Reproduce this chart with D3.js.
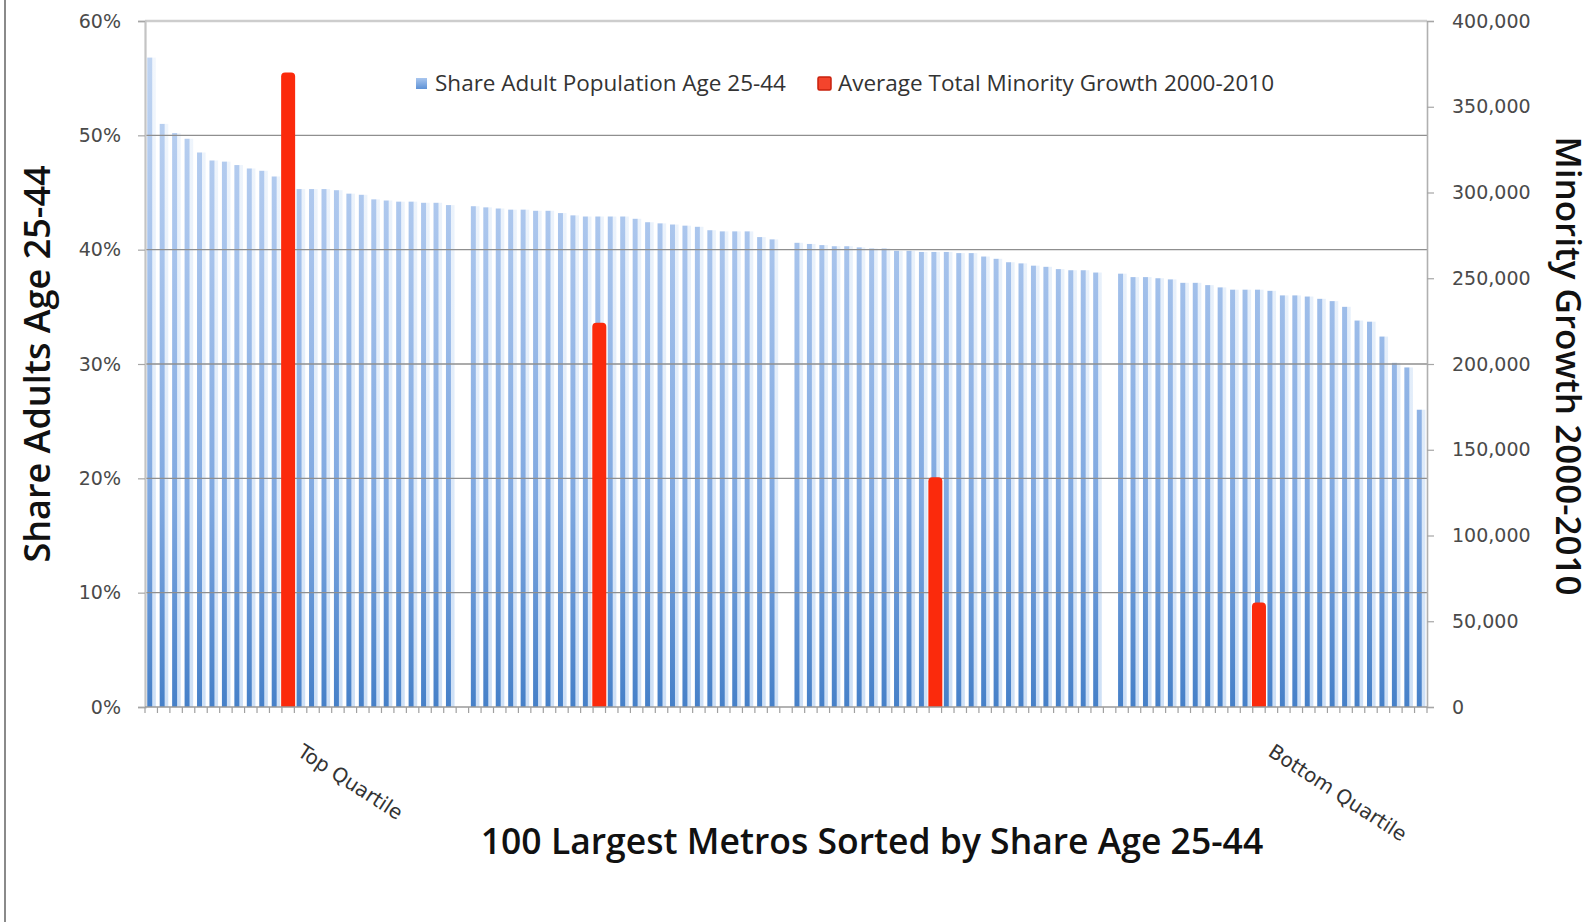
<!DOCTYPE html>
<html>
<head>
<meta charset="utf-8">
<script src="https://cdn.jsdelivr.net/npm/d3@7/dist/d3.min.js"></script>
<style>
  html, body { margin: 0; padding: 0; background: #fff; }
  svg { display: block; }
</style>
</head>
<body>
<svg id="chart" width="1594" height="922"></svg>
<script>
// ---------------- DATA ----------------
// Share of adult population age 25-44 for the 100 largest metros, sorted (four quartiles of 25)
const shareTopQuartile = [56.8, 51.0, 50.2, 49.7, 48.5, 47.8, 47.7, 47.4, 47.1, 46.9, 46.4, 46.2, 45.3, 45.3, 45.3, 45.2, 44.9, 44.8, 44.4, 44.3, 44.2, 44.2, 44.1, 44.1, 43.9];
const shareSecondQuartile = [43.8, 43.7, 43.6, 43.5, 43.5, 43.4, 43.4, 43.2, 43.0, 42.9, 42.9, 42.9, 42.9, 42.7, 42.4, 42.3, 42.2, 42.1, 42.0, 41.7, 41.6, 41.6, 41.6, 41.1, 40.9];
const shareThirdQuartile = [40.6, 40.5, 40.4, 40.3, 40.3, 40.2, 40.1, 40.1, 39.9, 39.9, 39.8, 39.8, 39.8, 39.7, 39.7, 39.4, 39.2, 38.9, 38.8, 38.6, 38.5, 38.3, 38.2, 38.2, 38.0];
const shareBottomQuartile = [37.9, 37.6, 37.6, 37.5, 37.4, 37.1, 37.1, 36.9, 36.7, 36.5, 36.5, 36.5, 36.4, 36.0, 36.0, 35.9, 35.7, 35.5, 35.0, 33.8, 33.7, 32.4, 30.1, 29.7, 26.0];
const quartileShares = [shareTopQuartile, shareSecondQuartile, shareThirdQuartile, shareBottomQuartile];

// Average total minority growth 2000-2010 per quartile, plotted at one metro rank inside each quartile
const minorityGrowth = [370000, 224000, 134000, 61000];
const markerRankInQuartile = [12, 11, 12, 12];            // 1-based rank within the quartile
const quartileLabels = ["Top Quartile", "", "", "Bottom Quartile"];

const leftTicks = [0, 0.1, 0.2, 0.3, 0.4, 0.5, 0.6];
const rightTicks = [0, 50000, 100000, 150000, 200000, 250000, 300000, 350000, 400000];

const seriesNames = ["Share Adult Population Age 25-44", "Average Total Minority Growth 2000-2010"];
const leftTitle = "Share Adults Age 25-44";
const rightTitle = "Minority Growth 2000-2010";
const xTitle = "100 Largest Metros Sorted by Share Age 25-44";

// ---------------- LAYOUT ----------------
const svg = d3.select("#chart");
const W = 1594, H = 922;
const plot = { left: 145, right: 1427, top: 21, bottom: 707 };

// categories: each quartile of 25 metros followed by one empty spacer slot
const slots = [];
quartileShares.forEach((arr, q) => {
  arr.forEach((v, i) => slots.push({ key: "q" + q + "_" + i, q, i, v }));
  if (q < quartileShares.length - 1) slots.push({ key: "gap" + q, q, i: -1, v: null });
});

const x = d3.scaleBand().domain(slots.map(d => d.key)).range([plot.left, plot.right]).paddingInner(0).paddingOuter(0);
const yL = d3.scaleLinear().domain([0, 0.6]).range([plot.bottom, plot.top]);
const yR = d3.scaleLinear().domain([0, 400000]).range([plot.bottom, plot.top]);
const step = x.step();

// defs
const defs = svg.append("defs");
const gDark = defs.append("linearGradient").attr("id", "gDark")
  .attr("gradientUnits", "userSpaceOnUse").attr("x1", 0).attr("x2", 0)
  .attr("y1", plot.top).attr("y2", plot.bottom);
gDark.append("stop").attr("offset", 0).attr("stop-color", "#c4d7f2");
gDark.append("stop").attr("offset", 0.3).attr("stop-color", "#abc6ed");
gDark.append("stop").attr("offset", 0.7).attr("stop-color", "#7fa8e0");
gDark.append("stop").attr("offset", 1).attr("stop-color", "#4680c8");
const gLight = defs.append("linearGradient").attr("id", "gLight")
  .attr("gradientUnits", "userSpaceOnUse").attr("x1", 0).attr("x2", 0)
  .attr("y1", plot.top).attr("y2", plot.bottom);
gLight.append("stop").attr("offset", 0).attr("stop-color", "#f4f8fd");
gLight.append("stop").attr("offset", 0.5).attr("stop-color", "#e4eefa");
gLight.append("stop").attr("offset", 1).attr("stop-color", "#cee0f6");
const gLeg = defs.append("linearGradient").attr("id", "gLeg").attr("x1", 0).attr("x2", 0).attr("y1", 0).attr("y2", 1);
gLeg.append("stop").attr("offset", 0).attr("stop-color", "#a9c6ee");
gLeg.append("stop").attr("offset", 1).attr("stop-color", "#5e92d6");

// left frame line of the screenshot
svg.append("line").attr("x1", 5).attr("x2", 5).attr("y1", 0).attr("y2", H)
  .attr("stroke", "#8a8a8a").attr("stroke-width", 2);

// blue bars
const blue = svg.append("g");
const barData = slots.filter(d => d.v !== null);
blue.selectAll("rect.light").data(barData).join("rect").attr("class", "light")
  .attr("x", d => x(d.key) + step * 0.55)
  .attr("width", step * 0.32)
  .attr("y", d => yL(d.v / 100))
  .attr("height", d => plot.bottom - yL(d.v / 100))
  .attr("fill", "url(#gLight)");
blue.selectAll("rect.dark").data(barData).join("rect").attr("class", "dark")
  .attr("x", d => x(d.key) + step * 0.18)
  .attr("width", step * 0.4)
  .attr("y", d => yL(d.v / 100))
  .attr("height", d => plot.bottom - yL(d.v / 100))
  .attr("fill", "url(#gDark)");

// gridlines
svg.append("g").selectAll("line").data(leftTicks.filter(t => t > 0)).join("line")
  .attr("x1", plot.left).attr("x2", plot.right)
  .attr("y1", d => yL(d)).attr("y2", d => yL(d))
  .attr("stroke", d => d === 0.6 ? "#cdcdcd" : "#8f8f8f")
  .attr("stroke-width", d => d === 0.6 ? 2.5 : 1.4);

// red bars
const redData = minorityGrowth.map((v, q) => ({ v, key: "q" + q + "_" + (markerRankInQuartile[q] - 1), label: quartileLabels[q] }));
const rw = 14;
svg.append("g").selectAll("path").data(redData).join("path")
  .attr("d", d => {
    const cx = x(d.key) + step / 2, y0 = yR(d.v), r = 4;
    const xl = cx - rw / 2, xr = cx + rw / 2;
    return `M${xl},${plot.bottom} L${xl},${y0 + r} Q${xl},${y0} ${xl + r},${y0} L${xr - r},${y0} Q${xr},${y0} ${xr},${y0 + r} L${xr},${plot.bottom} Z`;
  })
  .attr("fill", "#fb2a0c");

// axes
const axisColor = "#a6a6a6";
const labelColor = "#4a4a4a";
const tickFont = "DejaVu Sans, Verdana, sans-serif";

const gL = svg.append("g").attr("transform", `translate(${plot.left},0)`)
  .call(d3.axisLeft(yL).tickValues(leftTicks).tickFormat(d3.format(".0%")).tickSize(7).tickPadding(17));
const gR = svg.append("g").attr("transform", `translate(${plot.right},0)`)
  .call(d3.axisRight(yR).tickValues(rightTicks).tickFormat(d3.format(",")).tickSize(7).tickPadding(18));
[gL, gR].forEach(g => {
  g.select(".domain").attr("stroke", "#c4c4c4").attr("stroke-width", 2.2);
  g.selectAll(".tick line").attr("stroke", axisColor).attr("stroke-width", 1.2);
  g.selectAll(".tick text").attr("fill", labelColor).attr("font-family", tickFont).attr("font-size", 19);
});
gR.select(".domain").attr("stroke", "#b0b0b0").attr("stroke-width", 1.6);

// bottom category axis with ticks between categories
const gB = svg.append("g");
gB.append("line").attr("x1", plot.left).attr("x2", plot.right)
  .attr("y1", plot.bottom).attr("y2", plot.bottom)
  .attr("stroke", "#9a9a9a").attr("stroke-width", 1.6);
const boundaries = slots.map(d => x(d.key)).concat([plot.right]);
gB.selectAll("line.t").data(boundaries).join("line").attr("class", "t")
  .attr("x1", d => d).attr("x2", d => d)
  .attr("y1", plot.bottom).attr("y2", plot.bottom + 6)
  .attr("stroke", "#a0a0a0").attr("stroke-width", 1.2);

// rotated quartile labels
gB.selectAll("text").data(redData.filter(d => d.label)).join("text")
  .attr("transform", d => `translate(${x(d.key) + step / 2 + 8},${plot.bottom + 48}) rotate(33)`)
  .attr("font-family", tickFont).attr("font-size", 20).attr("fill", "#333")
  .text(d => d.label);

// titles
const titleFont = "Open Sans, Noto Sans, sans-serif";
svg.append("text").attr("transform", `translate(50,364) rotate(-90)`)
  .attr("text-anchor", "middle").attr("font-family", titleFont).attr("font-weight", 600)
  .attr("font-size", 36).attr("fill", "#111").text(leftTitle);
svg.append("text").attr("transform", `translate(1556,366) rotate(90)`)
  .attr("text-anchor", "middle").attr("font-family", titleFont).attr("font-weight", 600)
  .attr("font-size", 35).attr("fill", "#111").text(rightTitle);
svg.append("text").attr("x", 872).attr("y", 854)
  .attr("text-anchor", "middle").attr("font-family", titleFont).attr("font-weight", 600)
  .attr("font-size", 35.5).attr("fill", "#111").text(xTitle);

// legend
const leg = svg.append("g").attr("font-family", titleFont).attr("font-size", 22.5).attr("fill", "#333");
leg.append("rect").attr("x", 416).attr("y", 78).attr("width", 11).attr("height", 11).attr("fill", "url(#gLeg)");
leg.append("text").attr("x", 435).attr("y", 91).text(seriesNames[0]);
leg.append("rect").attr("x", 818).attr("y", 77).attr("width", 13).attr("height", 13)
  .attr("fill", "#f4442c").attr("stroke", "#c8200c").attr("stroke-width", 1.5).attr("rx", 1.5);
leg.append("text").attr("x", 838).attr("y", 91).text(seriesNames[1]);
</script>
</body>
</html>
